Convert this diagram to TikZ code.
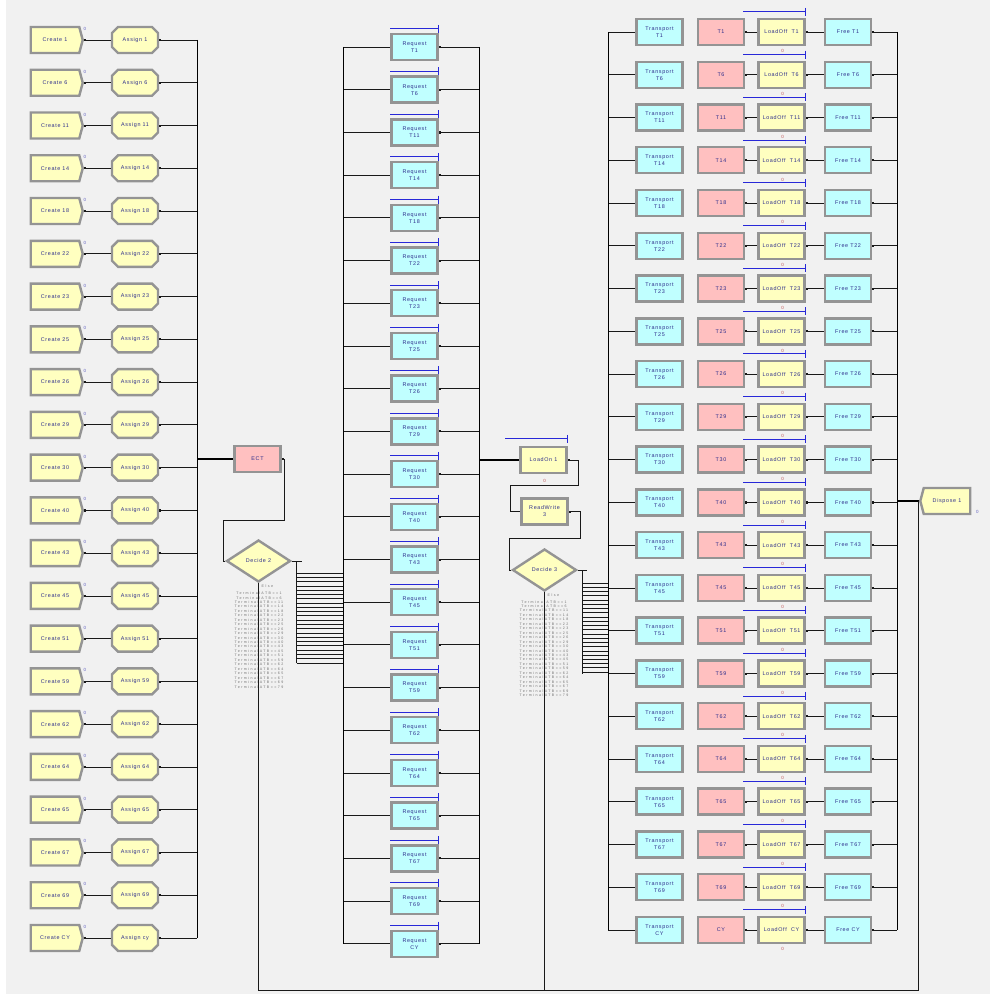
\documentclass[tikz,border=0pt]{standalone}
\usepackage{fontspec}
\setmainfont{Liberation Sans}
\newfontfamily\arenafont[LetterSpace=12]{Liberation Sans}
\newfontfamily\listfont[LetterSpace=40]{Liberation Sans}
\usetikzlibrary{arrows.meta,calc,shapes.geometric,shapes.symbols,shapes.misc}
\definecolor{modyel}{HTML}{FFFFC0}
\definecolor{modcyn}{HTML}{C0FFFF}
\definecolor{modpnk}{HTML}{FFC0C0}
\definecolor{modtxt}{HTML}{2E2E8C}
\definecolor{panelbg}{HTML}{F1F1F1}
\definecolor{qblue}{HTML}{2828D8}
\definecolor{cntred}{HTML}{C05050}
\definecolor{cntblu}{HTML}{6060C0}
\tikzset{
  mod/.style={draw=black!42,line width=2.4pt,inner sep=0pt,align=center,text=modtxt,font=\arenafont\fontsize{5.4}{7}\selectfont},
  boxm/.style={mod,rectangle,minimum width=46pt,minimum height=26pt},
  crt/.style={mod,signal,signal to=east,signal pointer angle=150,fill=modyel,minimum width=52pt,minimum height=26pt},
  asg/.style={mod,chamfered rectangle,chamfered rectangle xsep=4pt,fill=modyel,minimum width=46pt,minimum height=26pt},
  dcd/.style={mod,diamond,fill=modyel,minimum width=64pt,minimum height=42pt},
  dsp/.style={mod,signal,signal to=west,signal pointer angle=150,fill=modyel,minimum width=50pt,minimum height=26pt},
  ln/.style={black!90,line width=0.75pt},
  ex/.style={ln,{Square[length=1.8pt,width=1.8pt]}-},
  bus/.style={black,line width=1pt},
  main/.style={black,line width=2pt},
  qln/.style={draw=qblue,line width=0.8pt,-{Bar[width=8pt,line width=0.8pt,color=qblue]}},
  cnt/.style={text=cntred,font=\fontsize{4.5}{5}\selectfont,inner sep=0.5pt},
  cntb/.style={cnt,text=cntblu},
  cond/.style={text=black!55,font=\listfont\fontsize{3.6}{4.45}\selectfont,align=center,inner sep=0pt}
}
\newcommand{\termlist}{TerminalATB==1\\TerminalATB==6\\TerminalATB==11\\TerminalATB==14\\TerminalATB==18\\TerminalATB==22\\TerminalATB==23\\TerminalATB==25\\TerminalATB==26\\TerminalATB==29\\TerminalATB==30\\TerminalATB==40\\TerminalATB==43\\TerminalATB==45\\TerminalATB==51\\TerminalATB==59\\TerminalATB==62\\TerminalATB==64\\TerminalATB==65\\TerminalATB==67\\TerminalATB==69\\TerminalATB==79}
\begin{document}
\begin{tikzpicture}[x=1pt,y=-1pt]
\useasboundingbox (0,0) rectangle (990,995);
\fill[panelbg] (6,0) rectangle (990,994);
\coordinate (busA) at (197,0);
\coordinate (rqL) at (343,0);
\coordinate (rqR) at (479,0);
\coordinate (trL) at (608,0);
\coordinate (frR) at (897,0);
\coordinate (bot) at (918,990);

\foreach \lab/\alab [count=\i from 0] in {1/1,6/6,11/11,14/14,18/18,22/22,23/23,25/25,26/26,29/29,30/30,40/40,43/43,45/45,51/51,59/59,62/62,64/64,65/65,67/67,69/69,CY/cy}{
  \pgfmathsetmacro\yy{40+42.76*\i}
  \node[crt] (cr\i) at (55,\yy) {Create \lab};
  \node[asg] (as\i) at (135,\yy) {Assign \alab};
  \node[cntb] (cz\i) at ($(cr\i.east)+(1,-11)$) {0};
  \draw[ex] (cr\i.east) -- (as\i.west);
  \draw[ex] (as\i.east) -- (as\i.east -| busA);
}
\draw[bus] (as0.east -| busA) -- (as21.east -| busA);
\node[boxm,fill=modpnk] (ect) at (257.5,459) {ECT};
\draw[main] (busA |- ect.west) -- (ect.west);
\node[dcd] (dec2) at (258.5,561) {Decide 2};
\draw[ex] (ect.east) -- ++(3,0) -- ++(0,61) -| ($(dec2.west)+(-2,0)$) -- (dec2.west);
\draw[ln] (dec2.east) -- ++(10,0);
\draw[ln] ($(dec2.east)+(5,0)$) -- ++(0,102);
\foreach \k in {0,...,21} \draw[ln,line width=0.65pt] ($(dec2.east)+(5,12+4.28*\k)$) -- ++(47,0);
\node[cond,anchor=west] (else2) at ($(dec2.south)+(3,3)$) {Else};
\node[cond] (lst2) at (259,640) {\termlist};

\foreach \tn [count=\i from 0] in {T1,T6,T11,T14,T18,T22,T23,T25,T26,T29,T30,T40,T43,T45,T51,T59,T62,T64,T65,T67,T69,CY}{
  \pgfmathsetmacro\yy{47+42.7*\i}
  \node[boxm,fill=modcyn] (rq\i) at (414.5,\yy) {Request\\\tn};
  \draw[qln] ([yshift=4pt]rq\i.north west) -- ([yshift=4pt]rq\i.north east);
  \draw[ln] (rqL |- rq\i.west) -- (rq\i.west);
  \draw[ex] (rq\i.east) -- (rqR |- rq\i.east);
}
\draw[bus] (rqL |- rq0.west) -- (rqL |- rq21.west);
\draw[bus] (rqR |- rq0.east) -- (rqR |- rq21.east);

\node[boxm,fill=modyel] (lon) at (543.5,460) {LoadOn 1};
\draw[qln] ([xshift=-14pt,yshift=7pt]lon.north west) -- ([yshift=7pt]lon.north east);
\node[cnt] (lonz) at ($(lon.south)+(1,7)$) {0};
\draw[main] (rqR |- lon.west) -- (lon.west);
\node[boxm,fill=modyel] (rw) at (544.5,511.5) {ReadWrite\\3};
\draw[ex] (lon.east) -- ++(11,0) -- ++(0,25) -| ($(rw.west)+(-10,0)$) -- (rw.west);
\node[dcd] (dec3) at (544.5,570) {Decide 3};
\draw[ex] (rw.east) -- ++(12,0) -- ++(0,26.5) -| ($(dec3.west)+(-2,0)$) -- (dec3.west);
\draw[ln] (dec3.east) -- ++(9,0);
\draw[ln] ($(dec3.east)+(5,0)$) -- ++(0,104);
\foreach \k in {0,...,21} \draw[ln,line width=0.65pt] ($(dec3.east)+(5,13+4.24*\k)$) -- ++(26.5,0);
\node[cond,anchor=west] (else3) at ($(dec3.south)+(3,3)$) {Else};
\node[cond] (lst3) at (544,648.5) {\termlist};

\foreach \tn [count=\i from 0] in {T1,T6,T11,T14,T18,T22,T23,T25,T26,T29,T30,T40,T43,T45,T51,T59,T62,T64,T65,T67,T69,CY}{
  \pgfmathsetmacro\yy{32+42.76*\i}
  \node[boxm,fill=modcyn] (tr\i) at (659.5,\yy) {Transport\\\tn};
  \node[boxm,fill=modpnk] (st\i) at (721,\yy) {\tn};
  \node[boxm,fill=modyel] (lo\i) at (781.5,\yy) {LoadOff~ \tn};
  \node[boxm,fill=modcyn] (fr\i) at (848,\yy) {Free \tn};
  \draw[qln] ([xshift=-14pt,yshift=6pt]lo\i.north west) -- ([yshift=6pt]lo\i.north east);
  \node[cnt] (lz\i) at ($(lo\i.south)+(1,5)$) {0};
  \draw[ln] (trL |- tr\i.west) -- (tr\i.west);
  \draw[ex] (st\i.east) -- (lo\i.west);
  \draw[ex] (lo\i.east) -- (fr\i.west);
  \draw[ex] (fr\i.east) -- (frR |- fr\i.east);
}
\draw[bus] (trL |- tr0.west) -- (trL |- tr21.west);
\draw[bus] (frR |- fr0.east) -- (frR |- fr21.east);
\node[dsp] (disp) at (947,501) {Dispose 1};
\node[cntb] (dispz) at ($(disp.south east)+(6,-1)$) {0};
\draw[main] (frR |- disp.west) -- (disp.west);
\draw[ln] (dec2.south) |- (bot) -- (bot |- disp.west) -- (disp.west);
\draw[ln] (dec3.south) -- (dec3.south |- bot);
\end{tikzpicture}
\end{document}
